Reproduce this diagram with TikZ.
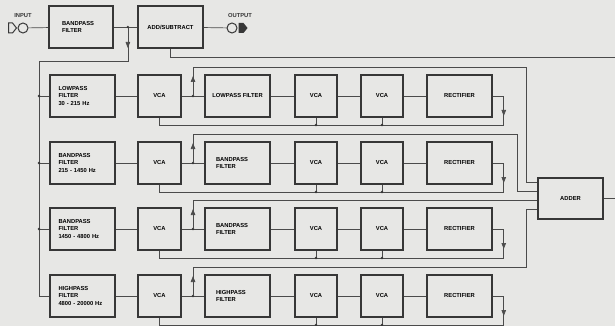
\documentclass[tikz,border=0pt]{standalone}
\usepackage{fontspec}
\setmainfont{Liberation Sans}
\usepackage{tikz}
\usetikzlibrary{positioning, arrows.meta, calc}

\definecolor{paper}{RGB}{231,231,229}
\definecolor{ink}{RGB}{55,55,55}
\newcommand\diaglbl{\fontsize{5.8}{7.5}\selectfont\bfseries}

\begin{document}
\begin{tikzpicture}[x=1pt, y=-1pt,
    block/.style={rectangle, draw=ink, line width=1.5pt, font=\diaglbl,
                  align=center, inner sep=0pt, minimum width=65pt,
                  minimum height=42pt},
    vca/.style={block, minimum width=42pt},
    leftbox/.style={block, text width=#1, align=left},
    jack/.style={circle, draw=ink, line width=1pt, minimum size=10pt, inner sep=0pt},
    tag/.style={font=\diaglbl, text=ink, inner sep=0pt},
    dot/.style={circle, fill=ink, inner sep=0pt, minimum size=2.6pt},
    wire/.style={draw=ink!90, line width=0.7pt},
    arrow/.style={wire, -{Triangle[length=6pt, width=4.5pt]}}
]
    \useasboundingbox (0,0) rectangle (615,326);
    \fill[paper] (0,0) rectangle (615,326);

    % top row
    \node[jack]                              (in)     at (23,28) {};
    \node[tag, above=5pt of in]              (inlbl)  {INPUT};
    \node[leftbox=38pt, minimum width=64pt]  (band)   at (81,27) {BANDPASS\\FILTER};
    \node[block, right=23.5pt of band]       (addsub) {ADD/SUBTRACT};
    \node[jack]                              (out)    at (232,28) {};
    \node[tag, above=5pt of out, xshift=8pt] (outlbl) {OUTPUT};
    \draw[ink, line width=1pt] ($(in.west)+(-9,-5)$) -- ++(4,0) -- ++(4,5)
        -- ++(-4,5) -- ++(-4,0) -- cycle;
    \fill[ink] ($(out.east)+(1,-5)$) -- ++(5,0) -- ++(4,5) -- ++(-4,5)
        -- ++(-5,0) -- cycle;

    % band split filters and channels
    \node[leftbox=48pt]                   (split1) at (82.5,96)  {LOWPASS\\FILTER\\30 - 215 Hz};
    \node[vca, minimum width=43pt, right=21.5pt of split1] (vcaA1) {VCA};
    \node[block, right=22.5pt of vcaA1]   (filt1)  {LOWPASS FILTER};
    \node[vca, right=23.5pt of filt1]     (vcaB1)  {VCA};
    \node[vca, right=22.5pt of vcaB1]     (vcaC1)  {VCA};
    \node[block, right=22.5pt of vcaC1]   (rect1)  {RECTIFIER};

    \node[leftbox=48pt]                   (split2) at (82.5,163) {BANDPASS\\FILTER\\215 - 1450 Hz};
    \node[vca, minimum width=43pt, right=21.5pt of split2] (vcaA2) {VCA};
    \node[leftbox=43pt, right=22.5pt of vcaA2] (filt2) {BANDPASS\\FILTER};
    \node[vca, right=23.5pt of filt2]     (vcaB2)  {VCA};
    \node[vca, right=22.5pt of vcaB2]     (vcaC2)  {VCA};
    \node[block, right=22.5pt of vcaC2]   (rect2)  {RECTIFIER};

    \node[leftbox=48pt]                   (split3) at (82.5,229) {BANDPASS\\FILTER\\1450 - 4800 Hz};
    \node[vca, minimum width=43pt, right=21.5pt of split3] (vcaA3) {VCA};
    \node[leftbox=43pt, right=22.5pt of vcaA3] (filt3) {BANDPASS\\FILTER};
    \node[vca, right=23.5pt of filt3]     (vcaB3)  {VCA};
    \node[vca, right=22.5pt of vcaB3]     (vcaC3)  {VCA};
    \node[block, right=22.5pt of vcaC3]   (rect3)  {RECTIFIER};

    \node[leftbox=48pt]                   (split4) at (82.5,296) {HIGHPASS\\FILTER\\4800 - 20000 Hz};
    \node[vca, minimum width=43pt, right=21.5pt of split4] (vcaA4) {VCA};
    \node[leftbox=43pt, right=22.5pt of vcaA4] (filt4) {HIGHPASS\\FILTER};
    \node[vca, right=23.5pt of filt4]     (vcaB4)  {VCA};
    \node[vca, right=22.5pt of vcaB4]     (vcaC4)  {VCA};
    \node[block, right=22.5pt of vcaC4]   (rect4)  {RECTIFIER};

    \node[block, minimum height=41pt]     (adder)  at (570.5,198.5) {ADDER};

    % helper points
    \coordinate (j0)    at ($(band.east)!0.6!(addsub.west)$);
    \coordinate (bus)   at (39,61);
    \coordinate (edgeA) at (615,57);
    \coordinate (edgeB) at (615,198.5);
    \coordinate (in1) at ($(adder.north west)+(0,5)$);
    \coordinate (in2) at ($(adder.north west)+(0,14)$);
    \coordinate (in3) at ($(adder.north west)+(0,23)$);
    \coordinate (in4) at ($(adder.north west)+(0,32)$);

    % top signal path
    \draw[wire]  (in)     -- (band);
    \draw[wire]  (band)   -- (addsub);
    \draw[wire]  (addsub) -- (out);
    \draw[wire]  (addsub.south) |- (edgeA);
    \draw[wire]  (adder)  -- (edgeB);
    \draw[wire]  (j0) |- (bus) |- (split4.west);
    \draw[arrow] (j0) -- ++(0,21);
    \node[dot] at (j0) {};
    \foreach \k in {1,2,3} {
        \draw[wire] (bus |- split\k.west) -- (split\k.west);
        \node[dot] at (bus |- split\k.west) {};
    }

    % channels
    \foreach \k in {1,2,3,4} {
        \draw[wire] (split\k) -- (vcaA\k);
        \draw[wire] (vcaA\k)  -- (filt\k);
        \draw[wire] (filt\k)  -- (vcaB\k);
        \draw[wire] (vcaB\k)  -- (vcaC\k);
        \draw[wire] (vcaC\k)  -- (rect\k);
        \coordinate (j\k) at ($(vcaA\k.east)!0.5!(filt\k.west)$);
        \coordinate (ctl\k) at ($(rect\k.east)+(11,29)$);
        \draw[wire]  (rect\k.east) -| (ctl\k) -| (vcaA\k.south);
        \draw[arrow] (rect\k.east) -| ($(ctl\k)+(0,-9)$);
        \draw[wire]  (vcaB\k.south) -- (vcaB\k.south |- ctl\k);
        \draw[wire]  (vcaC\k.south) -- (vcaC\k.south |- ctl\k);
        \node[dot] at (vcaB\k.south |- ctl\k) {};
        \node[dot] at (vcaC\k.south |- ctl\k) {};
        \draw[arrow] (j\k) -- ++(0,-20);
        \node[dot] at (j\k) {};
    }

    % to the adder
    \draw[wire] (j1) -- ++(0,-29) -| ($(in1)+(-11,0)$) -- (in1);
    \draw[wire] (j2) -- ++(0,-29) -| ($(in2)+(-20,0)$) -- (in2);
    \draw[wire] (j3) |- (in3);
    \draw[wire] (j4) -- ++(0,-29) -| ($(in4)+(-11,0)$) -- (in4);
\end{tikzpicture}
\end{document}
